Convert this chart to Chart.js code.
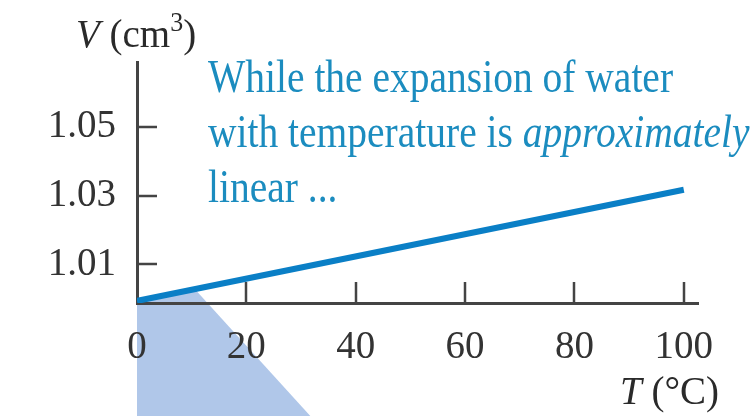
<!DOCTYPE html>
<html>
<head>
<meta charset="utf-8">
<script src="https://cdn.jsdelivr.net/npm/chart.js@4.4.1/dist/chart.umd.min.js"></script>
<style>
  body { margin: 0; background: #fff; }
  #wrap { width: 754px; height: 416px; }
</style>
</head>
<body>
<div id="wrap"><canvas id="chart" width="754" height="416"></canvas></div>
<script>
// data
var temps = [0, 100];
var volumes = [0.9994, 1.0317];
var xTicks = [0, 20, 40, 60, 80, 100];
var yTicks = [1.01, 1.03, 1.05];

// the pale blue wedge under the origin (T, V)
var shadeT = [0, 10.6, 31.7, 0];
var shadeV = [0.9994, 1.0028, 0.966, 0.966];

var noteLines = [
  [{ t: 'While the expansion of water', i: false }],
  [{ t: 'with temperature is ', i: false }, { t: 'approximately', i: true }],
  [{ t: 'linear ...', i: false }]
];
var noteBase = [92, 147, 202];

var serif = '"Liberation Serif", "Times New Roman", serif';
var axisColor = '#444';
var inkColor = '#333';
var noteColor = '#1b8cbf';

function runs(ctx, parts, x, y, stretch) {
  ctx.save();
  ctx.translate(x, y);
  ctx.scale(1, stretch || 1);
  var cx = 0;
  for (var k = 0; k < parts.length; k++) {
    var p = parts[k];
    ctx.font = p.f;
    ctx.fillText(p.t, cx, p.dy || 0);
    cx += ctx.measureText(p.t).width;
  }
  ctx.restore();
}

var decor = {
  id: 'decor',
  beforeDraw: function(chart) {
    var ctx = chart.ctx, xs = chart.scales.x, ys = chart.scales.y;
    ctx.save();
    ctx.fillStyle = '#b0c7e9';
    ctx.beginPath();
    for (var i = 0; i < shadeT.length; i++) {
      var px = xs.getPixelForValue(shadeT[i]);
      var py = ys.getPixelForValue(shadeV[i]);
      if (i === 0) ctx.moveTo(px, py); else ctx.lineTo(px, py);
    }
    ctx.closePath();
    ctx.fill();
    ctx.restore();
  },
  beforeDatasetsDraw: function(chart) {
    var ctx = chart.ctx, xs = chart.scales.x, ys = chart.scales.y, a = chart.chartArea;
    ctx.save();
    ctx.strokeStyle = axisColor;
    ctx.lineWidth = 2.5;
    ctx.beginPath();
    xTicks.forEach(function(v) {
      if (v === 0) return;
      var px = Math.round(xs.getPixelForValue(v));
      ctx.moveTo(px, a.bottom);
      ctx.lineTo(px, a.bottom - 21);
    });
    yTicks.forEach(function(v) {
      var py = Math.round(ys.getPixelForValue(v));
      ctx.moveTo(a.left, py);
      ctx.lineTo(a.left + 20, py);
    });
    ctx.stroke();
    ctx.restore();
  },
  afterDraw: function(chart) {
    var ctx = chart.ctx;
    ctx.save();
    ctx.textBaseline = 'alphabetic';
    ctx.textAlign = 'left';
    // axis titles
    ctx.fillStyle = '#2a2a2a';
    runs(ctx, [
      { t: 'V', f: 'italic 39px ' + serif },
      { t: ' (cm', f: '39px ' + serif },
      { t: '3', f: '26px ' + serif, dy: -15 },
      { t: ')', f: '39px ' + serif }
    ], 76, 47, 1.05);
    runs(ctx, [
      { t: 'T', f: 'italic 39px ' + serif },
      { t: ' (\u00b0C)', f: '39px ' + serif }
    ], 620, 404, 1.05);
    // note
    ctx.fillStyle = noteColor;
    noteLines.forEach(function(line, n) {
      runs(ctx, line.map(function(p) {
        return { t: p.t, f: (p.i ? 'italic ' : '') + '39.5px ' + serif };
      }), 208, noteBase[n], 1.15);
    });
    ctx.restore();
  }
};

var chart = new Chart(document.getElementById('chart'), {
  type: 'line',
  data: {
    labels: temps,
    datasets: [{
      data: temps.map(function(t, i) { return { x: t, y: volumes[i] }; }),
      borderColor: '#0a7fc6',
      borderWidth: 6,
      borderCapStyle: 'butt',
      pointRadius: 0,
      fill: false,
      tension: 0
    }]
  },
  options: {
    responsive: false,
    animation: false,
    devicePixelRatio: 1,
    layout: { padding: { top: 62, right: 56, left: 0, bottom: 0 } },
    plugins: { legend: { display: false }, tooltip: { enabled: false } },
    scales: {
      x: {
        type: 'linear',
        min: 0,
        max: 102.6,
        afterBuildTicks: function(s) { s.ticks = xTicks.map(function(v) { return { value: v }; }); },
        afterFit: function(s) { s.height = 113; },
        grid: { display: false, drawTicks: false },
        border: { display: true, color: axisColor, width: 3 },
        ticks: {
          padding: 21,
          color: inkColor,
          maxRotation: 0,
          font: { family: serif, size: 39 }
        }
      },
      y: {
        min: 0.9988,
        max: 1.0688,
        afterBuildTicks: function(s) { s.ticks = yTicks.map(function(v) { return { value: v }; }); },
        afterFit: function(s) { s.width = 137; },
        grid: { display: false, drawTicks: false },
        border: { display: true, color: axisColor, width: 3 },
        ticks: {
          padding: 21,
          color: inkColor,
          font: { family: serif, size: 39 },
          callback: function(v) { return v.toFixed(2); }
        }
      }
    }
  },
  plugins: [decor]
});
</script>
</body>
</html>
